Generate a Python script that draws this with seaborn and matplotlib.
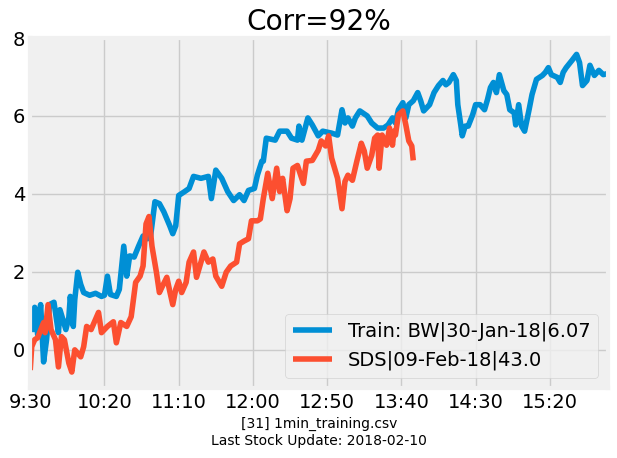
import matplotlib
matplotlib.use('Agg')
import matplotlib.pyplot as plt
from matplotlib.ticker import FixedLocator, FuncFormatter
import pandas as pd
import seaborn as sns

# minutes after 9:30 and values
train_min = [0, 2, 3, 5, 7, 9, 11, 13, 16, 19, 20, 24, 26, 27, 29, 30, 32, 34, 36, 40,
             44, 48, 50, 52, 54, 58, 60, 63, 65, 67, 70, 73, 76, 79, 81, 84, 87, 90, 94, 96,
             98, 100, 104, 107, 110, 115, 120, 122, 125, 129, 133, 137, 141, 144, 147, 151, 153, 156, 157, 159,
             165, 168, 173, 176, 180, 181, 183, 187, 190, 194, 197, 203, 207, 210, 212, 214, 217, 219, 222, 227,
             230, 234, 238, 241, 244, 246, 248, 251, 253, 255, 258, 261, 263, 265, 269, 272, 275, 278, 280, 282,
             285, 287, 288, 290, 291, 293, 295, 298, 300, 303, 306, 308, 310, 312, 314, 316, 319, 321, 323, 326,
             327, 329, 331, 333, 336, 338, 341, 345, 347, 349, 351, 355, 357, 359, 361, 365, 368, 370, 372, 375,
             377, 380, 383, 386, 389]
train_val = [0.83, 0.52, 1.09, 0.39, 1.16, -0.31, 0.26, 1.16, 1.22, 0.44, 1.03, 0.52, 0.83, 1.37, 0.60, 1.29, 1.99, 1.68, 1.47, 1.40,
             1.45, 1.37, 1.40, 1.89, 1.42, 1.37, 1.55, 2.66, 1.89, 2.41, 2.38, 2.66, 2.92, 2.85, 2.90, 3.80, 3.75, 3.54, 3.18, 2.98,
             3.18, 3.96, 4.06, 4.14, 4.45, 4.40, 4.45, 3.88, 4.61, 4.40, 4.06, 3.83, 3.98, 3.83, 4.09, 4.14, 4.48, 4.84, 4.84, 5.43,
             5.38, 5.61, 5.61, 5.43, 5.38, 5.74, 5.38, 5.95, 5.77, 5.49, 5.61, 5.56, 5.51, 6.16, 5.82, 5.95, 5.74, 5.95, 6.13, 6.00,
             5.82, 5.69, 5.69, 5.77, 5.95, 5.82, 6.16, 6.34, 5.95, 6.29, 6.39, 6.60, 6.39, 6.13, 6.29, 6.60, 6.78, 6.91, 6.80, 6.86,
             7.06, 6.91, 6.29, 5.77, 5.49, 5.74, 5.74, 6.03, 6.29, 6.29, 6.16, 6.42, 6.73, 6.86, 6.60, 7.06, 6.65, 6.55, 6.16, 6.08,
             5.77, 6.29, 5.74, 5.61, 6.16, 6.55, 6.94, 7.04, 7.12, 7.24, 7.06, 6.99, 6.86, 7.12, 7.24, 7.43, 7.58, 7.37, 6.78, 6.91,
             7.30, 7.04, 7.17, 7.06, 7.09]

test_min = [0, 1, 3, 5, 9, 10, 12, 14, 17, 19, 21, 23, 26, 28, 30, 34, 36, 38, 41, 46,
            48, 52, 56, 58, 61, 65, 68, 71, 74, 76, 78, 80, 82, 85, 87, 89, 92, 94, 96, 98,
            100, 102, 105, 107, 110, 112, 115, 117, 120, 123, 125, 129, 132, 135, 139, 141, 144, 147, 149, 153,
            155, 157, 160, 163, 166, 168, 170, 173, 175, 177, 180, 184, 186, 190, 192, 194, 196, 199, 201, 203,
            207, 210, 212, 214, 217, 220, 223, 225, 227, 230, 232, 234, 235, 237, 240, 242, 244, 245, 246, 248,
            251, 253, 255, 257, 258]
test_val = [-0.52, 0.08, 0.26, 0.31, 0.70, 0.44, 1.16, 0.52, 0.26, -0.44, 0.34, 0.26, -0.34, -0.57, 0.00, -0.18, 0.08, 0.60, 0.52, 0.96,
            0.44, 0.60, 0.72, 0.18, 0.70, 0.60, 0.85, 1.73, 1.89, 2.15, 3.23, 3.42, 2.66, 1.99, 1.47, 1.63, 1.86, 1.50, 1.16, 1.55,
            1.76, 1.47, 1.73, 2.25, 2.51, 1.86, 2.25, 2.51, 2.25, 2.33, 1.89, 1.63, 1.99, 2.15, 2.25, 2.72, 2.79, 2.85, 3.31, 3.31,
            3.36, 3.88, 4.53, 3.88, 4.66, 4.06, 4.40, 3.57, 3.88, 4.66, 4.73, 4.27, 4.84, 4.86, 4.99, 5.12, 5.36, 5.23, 5.49, 4.92,
            4.40, 3.62, 4.32, 4.48, 4.35, 4.84, 5.30, 5.10, 4.66, 4.99, 5.43, 5.51, 4.66, 5.51, 5.25, 5.69, 5.25, 5.61, 5.51, 6.03,
            6.13, 5.77, 5.36, 5.23, 4.86]

train_label = 'Train: BW|30-Jan-18|6.07'
test_label = 'SDS|09-Feb-18|43.0'
tick_min = [0, 50, 100, 150, 200, 250, 300, 350]

plt.style.use('fivethirtyeight')

fig, ax = plt.subplots(figsize=(6.17, 4.58), dpi=100)
fig.subplots_adjust(left=0.049, right=0.985, top=0.917, bottom=0.153)
fig.patch.set_facecolor('white')

sns.lineplot(x=train_min, y=train_val, ax=ax, color='#008fd5', lw=4, label=train_label)
sns.lineplot(x=test_min, y=test_val, ax=ax, color='#fc4f30', lw=4, label=test_label)

ax.set_xlim(train_min[0], train_min[-1])
ax.xaxis.set_major_locator(FixedLocator(tick_min))
ax.xaxis.set_major_formatter(FuncFormatter(
    lambda m, pos: f'{(570 + int(m)) // 60}:{(570 + int(m)) % 60:02d}'))
ax.set_yticks([0, 2, 4, 6, 8])

ax.set_title('Corr=92%')
ax.set_xlabel('[31] 1min_training.csv\nLast Stock Update: 2018-02-10', fontsize=10)
ax.legend(loc='lower right', fontsize=14)

plt.savefig('out.png', dpi=100, facecolor='white')
